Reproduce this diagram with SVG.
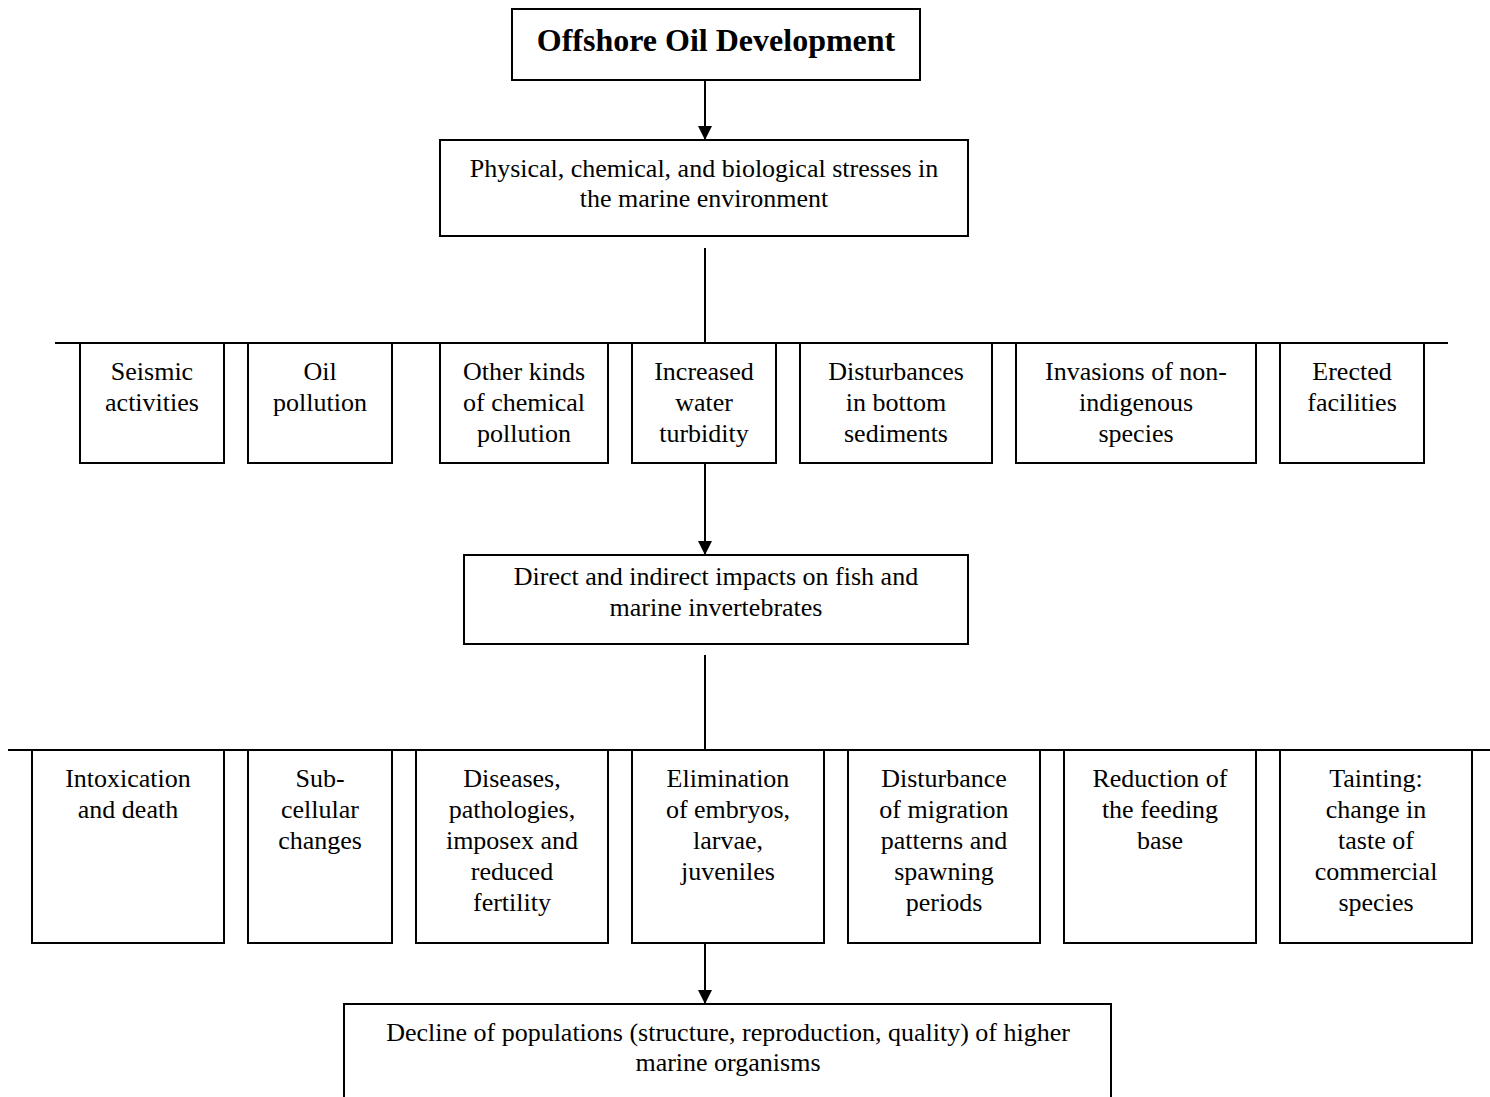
<svg xmlns="http://www.w3.org/2000/svg" width="1490" height="1097" viewBox="0 0 1490 1097">
<style>
.n rect{fill:#fff;stroke:#000;stroke-width:2}
line,path.c{stroke:#000;stroke-width:2;fill:none}
text{font-family:"Liberation Serif","Times New Roman",serif;font-size:26px;fill:#000;text-anchor:middle}
.b{font-weight:bold;font-size:32px}
</style>
<defs>
<marker id="ah" markerWidth="14" markerHeight="16" refX="14" refY="7" orient="auto" markerUnits="userSpaceOnUse" viewBox="0 0 14 16">
<path d="M0,0 L14,7 L0,14 Z" fill="#000"/>
</marker>
</defs>
<rect width="1490" height="1097" fill="#fff"/>
<g id="connectors">
<line x1="705" y1="81" x2="705" y2="140" marker-end="url(#ah)"/>
<line x1="705" y1="248" x2="705" y2="343"/>
<line x1="55" y1="343" x2="1448" y2="343"/>
<line x1="705" y1="463" x2="705" y2="555" marker-end="url(#ah)"/>
<line x1="705" y1="655" x2="705" y2="750"/>
<line x1="8" y1="750" x2="1490" y2="750"/>
<line x1="705" y1="943" x2="705" y2="1004" marker-end="url(#ah)"/>
</g>
<g class="n" id="n-offshore"><rect x="512" y="9" width="408" height="71"/><text class="b" x="716" y="51">Offshore Oil Development</text></g>
<g class="n" id="n-stresses"><rect x="440" y="140" width="528" height="96"/><text x="704" y="177">Physical, chemical, and biological stresses in</text><text x="704" y="207">the marine environment</text></g>
<g class="n" id="n-seismic"><rect x="80" y="343" width="144" height="120"/><text x="152" y="380">Seismic</text><text x="152" y="411">activities</text></g>
<g class="n" id="n-oil"><rect x="248" y="343" width="144" height="120"/><text x="320" y="380">Oil</text><text x="320" y="411">pollution</text></g>
<g class="n" id="n-other"><rect x="440" y="343" width="168" height="120"/><text x="524" y="380">Other kinds</text><text x="524" y="411">of chemical</text><text x="524" y="442">pollution</text></g>
<g class="n" id="n-turbidity"><rect x="632" y="343" width="144" height="120"/><text x="704" y="380">Increased</text><text x="704" y="411">water</text><text x="704" y="442">turbidity</text></g>
<g class="n" id="n-sediments"><rect x="800" y="343" width="192" height="120"/><text x="896" y="380">Disturbances</text><text x="896" y="411">in bottom</text><text x="896" y="442">sediments</text></g>
<g class="n" id="n-invasions"><rect x="1016" y="343" width="240" height="120"/><text x="1136" y="380">Invasions of non-</text><text x="1136" y="411">indigenous</text><text x="1136" y="442">species</text></g>
<g class="n" id="n-erected"><rect x="1280" y="343" width="144" height="120"/><text x="1352" y="380">Erected</text><text x="1352" y="411">facilities</text></g>
<g class="n" id="n-impacts"><rect x="464" y="555" width="504" height="89"/><text x="716" y="585">Direct and indirect impacts on fish and</text><text x="716" y="616">marine invertebrates</text></g>
<g class="n" id="n-intox"><rect x="32" y="750" width="192" height="193"/><text x="128" y="787">Intoxication</text><text x="128" y="818">and death</text></g>
<g class="n" id="n-subcell"><rect x="248" y="750" width="144" height="193"/><text x="320" y="787">Sub-</text><text x="320" y="818">cellular</text><text x="320" y="849">changes</text></g>
<g class="n" id="n-diseases"><rect x="416" y="750" width="192" height="193"/><text x="512" y="787">Diseases,</text><text x="512" y="818">pathologies,</text><text x="512" y="849">imposex and</text><text x="512" y="880">reduced</text><text x="512" y="911">fertility</text></g>
<g class="n" id="n-elim"><rect x="632" y="750" width="192" height="193"/><text x="728" y="787">Elimination</text><text x="728" y="818">of embryos,</text><text x="728" y="849">larvae,</text><text x="728" y="880">juveniles</text></g>
<g class="n" id="n-migration"><rect x="848" y="750" width="192" height="193"/><text x="944" y="787">Disturbance</text><text x="944" y="818">of migration</text><text x="944" y="849">patterns and</text><text x="944" y="880">spawning</text><text x="944" y="911">periods</text></g>
<g class="n" id="n-feeding"><rect x="1064" y="750" width="192" height="193"/><text x="1160" y="787">Reduction of</text><text x="1160" y="818">the feeding</text><text x="1160" y="849">base</text></g>
<g class="n" id="n-tainting"><rect x="1280" y="750" width="192" height="193"/><text x="1376" y="787">Tainting:</text><text x="1376" y="818">change in</text><text x="1376" y="849">taste of</text><text x="1376" y="880">commercial</text><text x="1376" y="911">species</text></g>
<g class="n" id="n-decline"><path class="c" d="M344,1097 V1004 H1111 V1097"/><text x="728" y="1041">Decline of populations (structure, reproduction, quality) of higher</text><text x="728" y="1071">marine organisms</text></g>
</svg>
